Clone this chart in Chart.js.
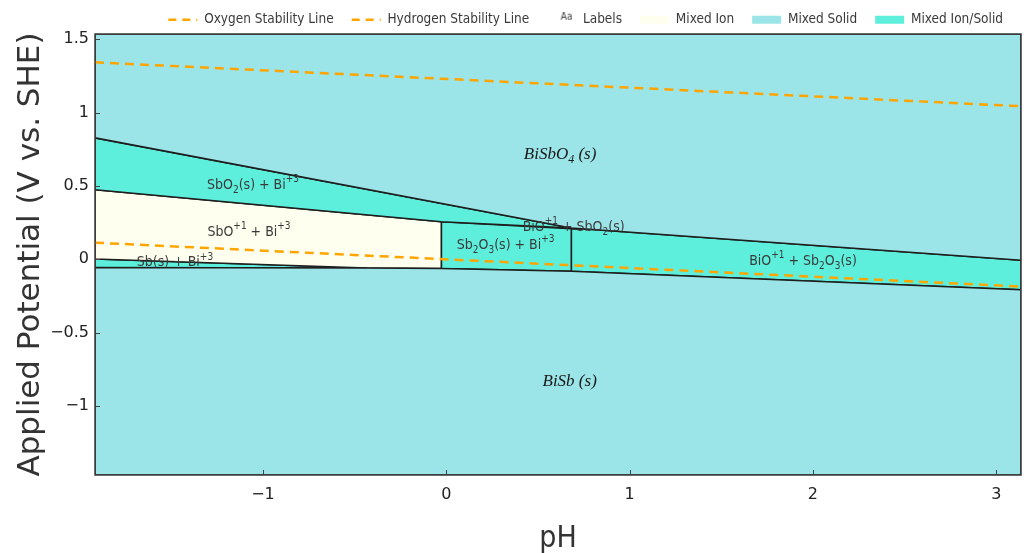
<!DOCTYPE html>
<html>
<head>
<meta charset="utf-8">
<script src="https://cdn.jsdelivr.net/npm/chart.js@4.4.1/dist/chart.umd.min.js"></script>
<style>
  html, body { margin: 0; padding: 0; background: #ffffff; }
  #wrap { width: 1024px; height: 553px; }
</style>
</head>
<body>
<div id="wrap"><canvas id="pourbaix" width="1024" height="553"></canvas></div>
<script>
// ---- axis extents and tick values ----
const phRange = [-1.916, 3.135];
const eRange = [-1.47, 1.535];
const xTicks = [-1, 0, 1, 2, 3];
const yTicks = [-1, -0.5, 0, 0.5, 1, 1.5];

// ---- water stability lines (pH, E) ----
const oxygenPH = [-1.916, 3.135];
const oxygenE = [1.342, 1.043];
const hydrogenPH = [-1.916, 3.135];
const hydrogenE = [0.113, -0.186];

// ---- phase regions: vertex lists (pH, E) ----
const bisbo4PH = [-1.916, 3.135, 3.135, 0.682, -1.916];
const bisbo4E = [1.535, 1.535, -0.007, 0.213, 0.827];

const bisbPH = [-1.916, -0.433, -0.027, 0.682, 3.135, 3.135, -1.916];
const bisbE = [-0.056, -0.060, -0.063, -0.082, -0.208, -1.47, -1.47];

const sbo2BiPH = [-1.916, 0.682, -0.027, -1.916];
const sbo2BiE = [0.827, 0.213, 0.256, 0.474];

const sboBiPH = [-1.916, -0.027, -0.027, -0.433, -1.916];
const sboBiE = [0.474, 0.256, -0.063, -0.060, 0.002];

const sbBiPH = [-1.916, -0.433, -1.916];
const sbBiE = [0.002, -0.060, -0.056];

const sb2o3BiPH = [-0.027, 0.682, 0.682, -0.027];
const sb2o3BiE = [0.256, 0.209, -0.082, -0.063];

const bioSbo2PH = [0.682, 0.76, 0.682];
const bioSbo2E = [0.213, 0.206, 0.209];

const bioSb2o3PH = [0.682, 0.76, 3.135, 3.135, 0.682];
const bioSb2o3E = [0.209, 0.206, -0.007, -0.208, -0.082];

// ---- region labels ----
const labelTexts = ['BiSbO_4 (s)', 'BiSb (s)', 'SbO_2(s) + Bi^{+3}', 'SbO^{+1} + Bi^{+3}', 'Sb(s) + Bi^{+3}',
                    'Sb_2O_3(s) + Bi^{+3}', 'BiO^{+1} + SbO_2(s)', 'BiO^{+1} + Sb_2O_3(s)'];
const labelPH = [0.621, 0.673, -1.054, -1.076, -1.480, 0.324, 0.695, 1.946];
const labelE = [0.713, -0.836, 0.502, 0.184, -0.024, 0.092, 0.215, -0.017];
const labelKinds = ['phase', 'phase', 'ion', 'ion', 'ion', 'ion', 'ion', 'ion'];

// ---- styling ----
const palette = {
  ion: '#FFFFF0',
  solid: '#9BE4E7',
  ionSolid: '#5DEFDC',
  stability: '#FFA500',
  edge: '#1e1e1e',
  text: '#3a3a3a'
};
const uiFont = '"DejaVu Sans Condensed", "DejaVu Sans", sans-serif';

const regions = [
  { name: 'BiSbO4(s)', ph: bisbo4PH, e: bisbo4E, kind: 'solid' },
  { name: 'BiSb(s)', ph: bisbPH, e: bisbE, kind: 'solid' },
  { name: 'SbO2(s) + Bi+3', ph: sbo2BiPH, e: sbo2BiE, kind: 'ionSolid' },
  { name: 'SbO+1 + Bi+3', ph: sboBiPH, e: sboBiE, kind: 'ion' },
  { name: 'Sb(s) + Bi+3', ph: sbBiPH, e: sbBiE, kind: 'ionSolid' },
  { name: 'Sb2O3(s) + Bi+3', ph: sb2o3BiPH, e: sb2o3BiE, kind: 'ionSolid' },
  { name: 'BiO+1 + SbO2(s)', ph: bioSbo2PH, e: bioSbo2E, kind: 'ionSolid' },
  { name: 'BiO+1 + Sb2O3(s)', ph: bioSb2o3PH, e: bioSb2o3E, kind: 'ionSolid' }
];

const toPoints = (xs, ys) => xs.map((x, i) => ({ x, y: ys[i] }));
const closed = (xs, ys) => { const p = toPoints(xs, ys); p.push({ ...p[0] }); return p; };

const datasets = [
  {
    label: 'Oxygen Stability Line',
    data: toPoints(oxygenPH, oxygenE),
    borderColor: palette.stability, borderWidth: 2.5, borderDash: [9, 6],
    pointRadius: 0, fill: false, tension: 0
  },
  {
    label: 'Hydrogen Stability Line',
    data: toPoints(hydrogenPH, hydrogenE),
    borderColor: palette.stability, borderWidth: 2.5, borderDash: [9, 6],
    pointRadius: 0, fill: false, tension: 0
  },
  ...regions.map(r => ({
    label: r.name,
    data: closed(r.ph, r.e),
    backgroundColor: palette[r.kind],
    borderColor: palette.edge,
    borderWidth: 1.6,
    pointRadius: 0,
    tension: 0,
    fill: 'shape'
  }))
];

// small "Aa" glyph used as the legend marker for text labels
const aaMarker = (() => {
  const c = document.createElement('canvas');
  c.width = 28; c.height = 16;
  const g = c.getContext('2d');
  g.fillStyle = palette.text;
  g.font = '10px "DejaVu Sans Condensed", "DejaVu Sans", sans-serif';
  g.textBaseline = 'alphabetic';
  g.fillText('Aa', 13, 8);
  return c;
})();

const legendEntries = [
  { text: 'Oxygen Stability Line', pointStyle: 'line', strokeStyle: palette.stability, fillStyle: palette.stability, lineWidth: 2.5, lineDash: [8, 6] },
  { text: 'Hydrogen Stability Line', pointStyle: 'line', strokeStyle: palette.stability, fillStyle: palette.stability, lineWidth: 2.5, lineDash: [8, 6] },
  { text: 'Labels', pointStyle: aaMarker, strokeStyle: 'rgba(0,0,0,0)', fillStyle: 'rgba(0,0,0,0)', lineWidth: 0, lineDash: [] },
  { text: 'Mixed Ion', pointStyle: 'rect', strokeStyle: palette.ion, fillStyle: palette.ion, lineWidth: 0, lineDash: [] },
  { text: 'Mixed Solid', pointStyle: 'rect', strokeStyle: palette.solid, fillStyle: palette.solid, lineWidth: 0, lineDash: [] },
  { text: 'Mixed Ion/Solid', pointStyle: 'rect', strokeStyle: palette.ionSolid, fillStyle: palette.ionSolid, lineWidth: 0, lineDash: [] }
];

// text with _x subscripts and ^{..} superscripts
function parseRich(s) {
  const parts = [];
  let buf = '';
  let i = 0;
  const push = (t, m) => { if (t) parts.push({ t, m }); };
  while (i < s.length) {
    const c = s[i];
    if (c === '_') { push(buf, 'n'); buf = ''; push(s[i + 1], 'sub'); i += 2; }
    else if (c === '^' && s[i + 1] === '{') {
      push(buf, 'n'); buf = '';
      const j = s.indexOf('}', i);
      push(s.slice(i + 2, j), 'sup');
      i = j + 1;
    } else { buf += c; i++; }
  }
  push(buf, 'n');
  return parts;
}

function drawRich(ctx, str, cx, cy, family, size, style, color) {
  const parts = parseRich(str);
  const fontFor = m => `${style} ${m === 'n' ? size : Math.round(size * 0.72)}px ${family}`;
  let total = 0;
  parts.forEach(p => { ctx.font = fontFor(p.m); p.w = ctx.measureText(p.t).width; total += p.w; });
  let x = cx - total / 2;
  ctx.fillStyle = color;
  ctx.textBaseline = 'middle';
  ctx.textAlign = 'left';
  parts.forEach(p => {
    ctx.font = fontFor(p.m);
    const dy = p.m === 'sub' ? size * 0.32 : p.m === 'sup' ? -size * 0.42 : 0;
    ctx.fillText(p.t, x, cy + dy);
    x += p.w;
  });
}

// legend band height kept fixed so the plot starts right under it
const legendBand = {
  id: 'legendBand',
  beforeLayout(chart) {
    const lg = chart.legend;
    if (lg && !lg.__bandFit) {
      const fit = lg.fit.bind(lg);
      lg.fit = function () { fit(); this.height = 39; };
      lg.__bandFit = true;
    }
  }
};

const decorations = {
  id: 'decorations',
  afterDatasetsDraw(chart) {
    const { ctx, chartArea: a, scales: { x, y } } = chart;
    ctx.save();
    // region labels
    labelTexts.forEach((t, i) => {
      const px = x.getPixelForValue(labelPH[i]);
      const py = y.getPixelForValue(labelE[i]);
      if (labelKinds[i] === 'phase') {
        drawRich(ctx, t, px, py, '"Liberation Serif", "DejaVu Serif", serif', 17, 'italic', '#1a1a1a');
      } else {
        drawRich(ctx, t, px, py, uiFont, 14, 'normal', palette.text);
      }
    });
    // inward tick marks
    ctx.strokeStyle = '#444';
    ctx.lineWidth = 1;
    ctx.beginPath();
    xTicks.forEach(v => {
      const px = Math.round(x.getPixelForValue(v)) + 0.5;
      ctx.moveTo(px, a.bottom); ctx.lineTo(px, a.bottom - 5);
    });
    yTicks.forEach(v => {
      const py = Math.round(y.getPixelForValue(v)) + 0.5;
      ctx.moveTo(a.left, py); ctx.lineTo(a.left + 5, py);
    });
    ctx.stroke();
    // plot frame
    ctx.strokeStyle = '#3a3a3a';
    ctx.lineWidth = 1.5;
    ctx.strokeRect(a.left, a.top, a.right - a.left, a.bottom - a.top);
    ctx.restore();
  }
};

const minusSign = v => String(v).replace('-', '\u2212');

new Chart(document.getElementById('pourbaix'), {
  type: 'line',
  data: { datasets },
  options: {
    responsive: false,
    animation: false,
    devicePixelRatio: 1,
    layout: { padding: { top: -5, right: 3, left: 0, bottom: 0 } },
    plugins: {
      tooltip: { enabled: false },
      legend: {
        position: 'top',
        align: 'end',
        labels: {
          usePointStyle: true,
          pointStyleWidth: 29,
          boxHeight: 8,
          padding: 18,
          color: palette.text,
          font: { family: uiFont, size: 13.5 },
          generateLabels: () => legendEntries.map((e, i) => ({
            text: e.text,
            pointStyle: e.pointStyle,
            strokeStyle: e.strokeStyle,
            fillStyle: e.fillStyle,
            lineWidth: e.lineWidth,
            lineDash: e.lineDash,
            fontColor: palette.text,
            hidden: false,
            datasetIndex: i
          }))
        },
        onClick: null
      }
    },
    scales: {
      x: {
        type: 'linear',
        min: phRange[0],
        max: phRange[1],
        afterBuildTicks: s => { s.ticks = xTicks.map(v => ({ value: v })); },
        afterFit: s => { s.height = 78; },
        grid: { display: false, drawTicks: false },
        border: { display: false },
        ticks: { padding: 10, color: '#222', font: { family: '"DejaVu Sans", sans-serif', size: 16 }, callback: minusSign, maxRotation: 0 },
        title: { display: true, text: 'pH', color: '#333', font: { family: uiFont, size: 30 }, padding: { top: 0, bottom: -4 } }
      },
      y: {
        type: 'linear',
        min: eRange[0],
        max: eRange[1],
        afterBuildTicks: s => { s.ticks = yTicks.map(v => ({ value: v })); },
        afterFit: s => { s.width = 95; },
        grid: { display: false, drawTicks: false },
        border: { display: false },
        ticks: { padding: 6, color: '#222', font: { family: '"DejaVu Sans", sans-serif', size: 16 }, callback: minusSign },
        title: { display: true, text: 'Applied Potential (V vs. SHE)', color: '#333', font: { family: '"DejaVu Sans", sans-serif', size: 31 }, padding: { top: 12, bottom: 0 } }
      }
    }
  },
  plugins: [legendBand, decorations]
});
</script>
</body>
</html>
